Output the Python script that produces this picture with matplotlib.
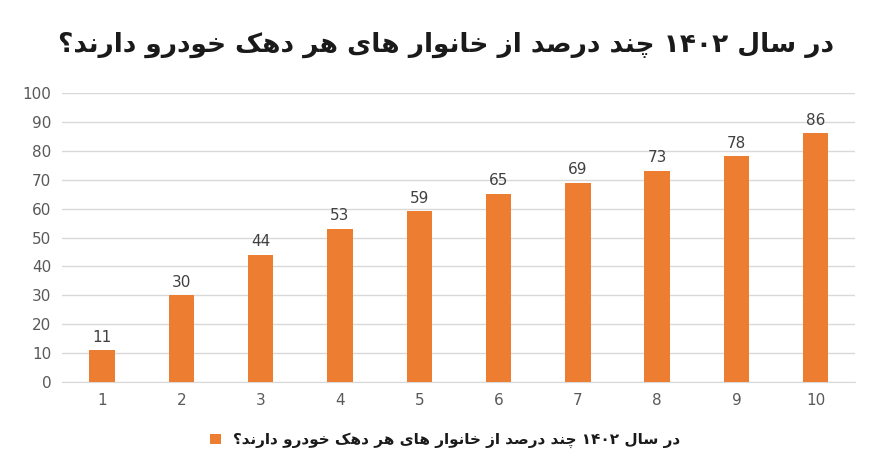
import matplotlib
matplotlib.use("Agg")
import matplotlib.pyplot as plt

categories = ["1", "2", "3", "4", "5", "6", "7", "8", "9", "10"]
values = [11, 30, 44, 53, 59, 65, 69, 73, 78, 86]
title_fa = "در سال ۱۴۰۲ چند درصد از خانوار های هر دهک خودرو دارند؟"

FORMS = {
    'ا': ('\uFE8D', '\uFE8E', None, None),
    'د': ('\uFEA9', '\uFEAA', None, None),
    'ر': ('\uFEAD', '\uFEAE', None, None),
    'ز': ('\uFEAF', '\uFEB0', None, None),
    'و': ('\uFEED', '\uFEEE', None, None),
    'س': ('\uFEB1', '\uFEB2', '\uFEB3', '\uFEB4'),
    'ل': ('\uFEDD', '\uFEDE', '\uFEDF', '\uFEE0'),
    'چ': ('\uFB7A', '\uFB7B', '\uFB7C', '\uFB7D'),
    'ن': ('\uFEE5', '\uFEE6', '\uFEE7', '\uFEE8'),
    'ص': ('\uFEB9', '\uFEBA', '\uFEBB', '\uFEBC'),
    'خ': ('\uFEA5', '\uFEA6', '\uFEA7', '\uFEA8'),
    'ه': ('\uFEE9', '\uFEEA', '\uFEEB', '\uFEEC'),
    'ی': ('\uFBFC', '\uFBFD', '\uFBFE', '\uFBFF'),
    'ک': ('\uFB8E', '\uFB8F', '\uFB90', '\uFB91'),
}

def shape_word(w):
    out = []
    for i, c in enumerate(w):
        if c not in FORMS:
            out.append(c); continue
        f = FORMS[c]
        prev = w[i-1] if i > 0 else None
        nxt = w[i+1] if i + 1 < len(w) else None
        jp = prev in FORMS and FORMS[prev][2] is not None
        jn = f[2] is not None and nxt in FORMS
        if jp and jn: out.append(f[3])
        elif jp: out.append(f[1])
        elif jn: out.append(f[2])
        else: out.append(f[0])
    return "".join(out)

def visual(s):
    words = s.split(" ")[::-1]
    res = []
    for w in words:
        if all('\u06F0' <= c <= '\u06F9' for c in w):
            res.append(w)
        else:
            res.append(shape_word(w)[::-1])
    return " ".join(res)

vt = visual(title_fa)
orange = "#ED7D31"
grey = "#595959"

fig = plt.figure(figsize=(8.91, 4.76), dpi=100)
ax = fig.add_axes([0.07, 0.197, 0.89, 0.608])
x = list(range(1, len(categories) + 1))
bars = ax.bar(x, values, width=0.32, color=orange, label=vt, zorder=3)
for xi, v in zip(x, values):
    ax.text(xi, v + 2, str(v), ha="center", va="bottom", fontsize=11, color="#404040")
ax.set_xlim(0.5, 10.5)
ax.set_ylim(0, 100)
ax.set_yticks(range(0, 101, 10))
ax.set_xticks(x)
ax.set_xticklabels(categories)
ax.tick_params(axis="both", length=0, labelsize=11, colors=grey, pad=8)
ax.grid(axis="y", color="#D9D9D9", linewidth=1, zorder=0)
for s in ["top", "right", "left"]:
    ax.spines[s].set_visible(False)
ax.spines["bottom"].set_color("#D9D9D9")

fig.text(0.5, 0.905, vt, ha="center", va="center", fontsize=19, fontweight="bold",
         color="#1a1a1a", family="DejaVu Sans")
fig.legend(handles=[bars], labels=[vt], loc="center", bbox_to_anchor=(0.5, 0.075),
           frameon=False, handlelength=0.7, handleheight=0.7,
           prop={"weight": "bold", "size": 11}, labelcolor="#1a1a1a")
fig.savefig("out.png", dpi=100)
